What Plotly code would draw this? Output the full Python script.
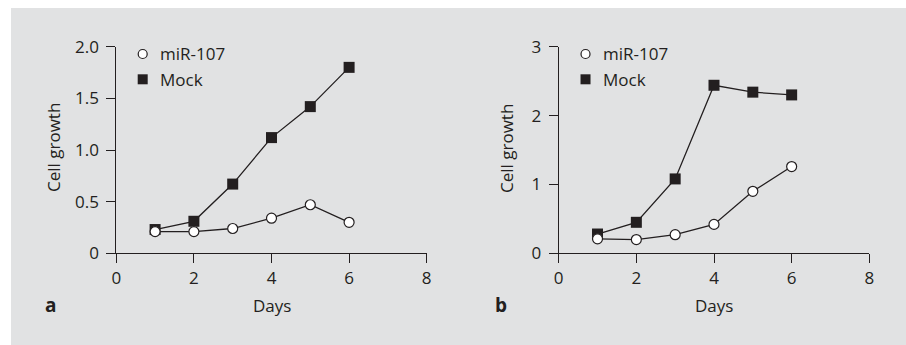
import plotly.graph_objects as go

# ---- data ----
days = [1, 2, 3, 4, 5, 6]
a_mir107 = [0.21, 0.21, 0.24, 0.34, 0.47, 0.30]
a_mock = [0.23, 0.31, 0.67, 1.12, 1.42, 1.80]
b_mir107 = [0.21, 0.20, 0.27, 0.42, 0.90, 1.26]
b_mock = [0.28, 0.45, 1.08, 2.44, 2.34, 2.30]

x_ticks = [0, 2, 4, 6, 8]
a_yticks = [0, 0.5, 1.0, 1.5, 2.0]
a_yticklabels = ["0", "0.5", "1.0", "1.5", "2.0"]
b_yticks = [0, 1, 2, 3]
b_yticklabels = ["0", "1", "2", "3"]
panel_labels = ["a", "b"]
series_names = ["miR-107", "Mock"]

W, H = 906, 345
INK = "#231f20"
FONT = "Open Sans"
FS = 17

def px_x(p):
    return p / W

def px_y(p):
    return (H - p) / H

fig = go.Figure()

circle_style = dict(symbol="circle", size=10, color="white", line=dict(color=INK, width=1.2))
square_style = dict(symbol="square", size=11, color=INK, line=dict(color=INK, width=0))
line_style = dict(color=INK, width=1.3)

for i, (mir, mock) in enumerate([(a_mir107, a_mock), (b_mir107, b_mock)]):
    xa = "x" if i == 0 else "x2"
    ya = "y" if i == 0 else "y2"
    fig.add_trace(go.Scatter(x=days, y=mock, mode="lines+markers", name=series_names[1],
                             xaxis=xa, yaxis=ya, line=line_style, marker=square_style,
                             cliponaxis=False, showlegend=False))
    fig.add_trace(go.Scatter(x=days, y=mir, mode="lines+markers", name=series_names[0],
                             xaxis=xa, yaxis=ya, line=line_style, marker=circle_style,
                             cliponaxis=False, showlegend=False))

y_dom = [px_y(253.3), px_y(46.7)]
ax_common = dict(showgrid=False, zeroline=False, showline=True, linecolor=INK, linewidth=1,
                 ticks="outside", ticklen=9, tickwidth=1, tickcolor=INK, automargin=False,
                 tickfont=dict(family=FONT, size=FS, color=INK), fixedrange=True)

fig.update_layout(
    template="none",
    width=W, height=H, autosize=False,
    margin=dict(l=0, r=0, t=0, b=0, pad=0, autoexpand=False),
    paper_bgcolor="white", plot_bgcolor="rgba(0,0,0,0)",
    font=dict(family=FONT, size=FS, color=INK),
    xaxis=dict(domain=[px_x(116.3), px_x(426.7)], range=[0, 8], tickvals=x_ticks,
               anchor="y", **ax_common),
    yaxis=dict(domain=y_dom, range=[0, 2], tickvals=a_yticks, ticktext=a_yticklabels,
               anchor="x", ticklabelstandoff=4, **ax_common),
    xaxis2=dict(domain=[px_x(558.7), px_x(869.3)], range=[0, 8], tickvals=x_ticks,
                anchor="y2", **ax_common),
    yaxis2=dict(domain=y_dom, range=[0, 3], tickvals=b_yticks, ticktext=b_yticklabels,
                anchor="x2", ticklabelstandoff=4, **ax_common),
    showlegend=False,
)

# grey panel background
fig.add_shape(type="rect", xref="paper", yref="paper", x0=px_x(11), x1=1, y0=0, y1=px_y(8),
              fillcolor="#e1e2e3", line=dict(width=0), layer="below")

annos = []
for i, lx in enumerate([50, 501]):
    xr = "x" if i == 0 else "x2"
    annos.append(dict(x=4, y=px_y(305), xref=xr, yref="paper", text="Days", showarrow=False,
                      font=dict(family=FONT, size=FS, color=INK), xanchor="center", yanchor="middle"))
    annos.append(dict(x=(53 if i == 0 else 506) / W, y=px_y(148), xref="paper", yref="paper",
                      text="Cell growth", textangle=-90, showarrow=False,
                      font=dict(family=FONT, size=FS, color=INK), xanchor="center", yanchor="middle"))
    annos.append(dict(x=lx / W, y=px_y(305), xref="paper", yref="paper",
                      text="<b>" + panel_labels[i] + "</b>", showarrow=False,
                      font=dict(family=FONT, size=19, color=INK), xanchor="center", yanchor="middle"))

fig.update_layout(annotations=annos)

# in-plot legend
for i, ymax in enumerate([2.0, 3.0]):
    xr = "x" if i == 0 else "x2"
    yr = "y" if i == 0 else "y2"
    lx0 = 142.7 - 116.3 if i == 0 else 585.5 - 558.7
    ppu_x = (426.7 - 116.3) / 8
    ppu_y = (253.3 - 46.7) / ymax
    mx = lx0 / ppu_x
    y1 = (253.3 - 54) / ppu_y
    y2 = (253.3 - 79.3) / ppu_y
    fig.add_trace(go.Scatter(x=[mx], y=[y1], mode="markers", xaxis=xr, yaxis=yr,
                             marker=dict(symbol="circle", size=9, color="white", line=dict(color=INK, width=1.2)),
                             cliponaxis=False, showlegend=False, hoverinfo="skip"))
    fig.add_trace(go.Scatter(x=[mx], y=[y2], mode="markers", xaxis=xr, yaxis=yr,
                             marker=dict(symbol="square", size=10, color=INK),
                             cliponaxis=False, showlegend=False, hoverinfo="skip"))
    for yy, name in [(y1, series_names[0]), (y2, series_names[1])]:
        fig.add_annotation(x=mx + 15 / ppu_x, y=yy, xref=xr, yref=yr, text=name, showarrow=False,
                           xanchor="left", yanchor="middle",
                           font=dict(family=FONT, size=FS, color=INK))

fig.write_html("out.html", config={"displayModeBar": False, "responsive": False},
               post_script="document.body.style.margin='0';document.body.style.overflow='hidden';")
